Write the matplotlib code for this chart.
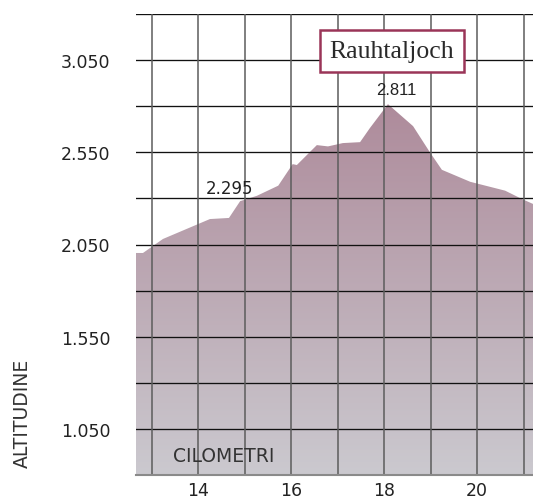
import numpy as np
import matplotlib
matplotlib.use("Agg")
import matplotlib.pyplot as plt
from matplotlib.colors import LinearSegmentedColormap
from matplotlib.ticker import FuncFormatter

# ---- data ----
km = [12.66, 12.81, 13.24, 14.25, 14.66, 14.90, 15.26, 15.72, 16.03, 16.12,
      16.55, 16.79, 17.11, 17.48, 17.69, 18.08, 18.62, 18.98, 19.24, 19.85,
      20.60, 20.96, 21.20]
elev = [2004, 2004, 2080, 2188, 2194, 2285, 2314, 2369, 2486, 2481,
        2589, 2582, 2600, 2605, 2681, 2811, 2692, 2551, 2455, 2390,
        2342, 2297, 2270]
x_ticks = [14, 16, 18, 20]
x_grid = [13, 14, 15, 16, 17, 18, 19, 20, 21]
y_ticks = [1050, 1550, 2050, 2550, 3050]
y_grid = [800, 1050, 1300, 1550, 1800, 2050, 2300, 2550, 2800, 3050, 3300]
peak_label = ("Rauhtaljoch", 18.08, 2811, "2.811")
waypoint = (14.90, 2295, "2.295")
xlim = (12.66, 21.2)
ylim = (800, 3300)

fig = plt.figure(figsize=(5.33, 5.02), dpi=100)
ax = fig.add_axes([136/533, 26/502, 397/533, 461/502])
ax.set_xlim(*xlim)
ax.set_ylim(*ylim)

# gradient fill
poly = ax.fill_between(km, elev, ylim[0], color="none", lw=0)
cmap = LinearSegmentedColormap.from_list("g", ["#cbc9cf", "#ae8b9b"])
grad = np.linspace(0, 1, 256).reshape(-1, 1)
im = ax.imshow(grad, cmap=cmap, origin="lower", aspect="auto",
               extent=[xlim[0], xlim[1], ylim[0], max(elev)], zorder=1)
path = poly.get_paths()[0]
im.set_clip_path(path, transform=ax.transData)
ax.set_xlim(*xlim)
ax.set_ylim(*ylim)

# grid
for yv in y_grid:
    ax.axhline(yv, color="#111111", lw=0.95, zorder=3)
for xv in x_grid:
    ax.axvline(xv, color="#5c5c5c", lw=1.1, zorder=3)

# spines
for s in ["top", "right", "left"]:
    ax.spines[s].set_visible(False)
ax.spines["bottom"].set_color("#8a8a8a")
ax.spines["bottom"].set_linewidth(1.5)
ax.spines["bottom"].set_zorder(4)

ax.set_xticks(x_ticks)
ax.set_yticks(y_ticks)
fmt = FuncFormatter(lambda v, p: f"{int(v):,}".replace(",", "."))
ax.yaxis.set_major_formatter(fmt)
ax.tick_params(axis="both", length=0, labelsize=12.5, labelcolor="#222222",
               labelfontfamily="DejaVu Sans")
ax.tick_params(axis="y", pad=18.5)
ax.tick_params(axis="x", pad=4)

fig.text(22/533, 1 - 413/502, "ALTITUDINE", rotation=90, ha="center",
         va="center", fontsize=13.5, color="#333333", family="DejaVu Sans")
ax.text((173-136)/397, (476-457)/461, "CILOMETRI", transform=ax.transAxes,
        ha="left", va="center", fontsize=13.5, color="#333333",
        family="DejaVu Sans", zorder=5)

# peak
name, px, py, ptxt = peak_label
ax.annotate(ptxt, (px, py), xytext=(6, 5), textcoords="offset points",
            ha="center", va="bottom", fontsize=12, color="#222222",
            family="Liberation Sans", zorder=5)
ax.text((392-136)/397, (476-52)/461, name, transform=ax.transAxes,
        ha="center", va="center", fontsize=18.5, color="#2a2a2a",
        family="Liberation Serif", zorder=6,
        bbox=dict(boxstyle="square,pad=0.38", fc="white", ec="#9a3558", lw=1.8))

wx, wy, wtxt = waypoint
ax.annotate(wtxt, (wx, wy), xytext=(-8, 2), textcoords="offset points",
            ha="center", va="bottom", fontsize=12, color="#222222",
            family="DejaVu Sans", zorder=5)

fig.savefig("out.png", dpi=100)
